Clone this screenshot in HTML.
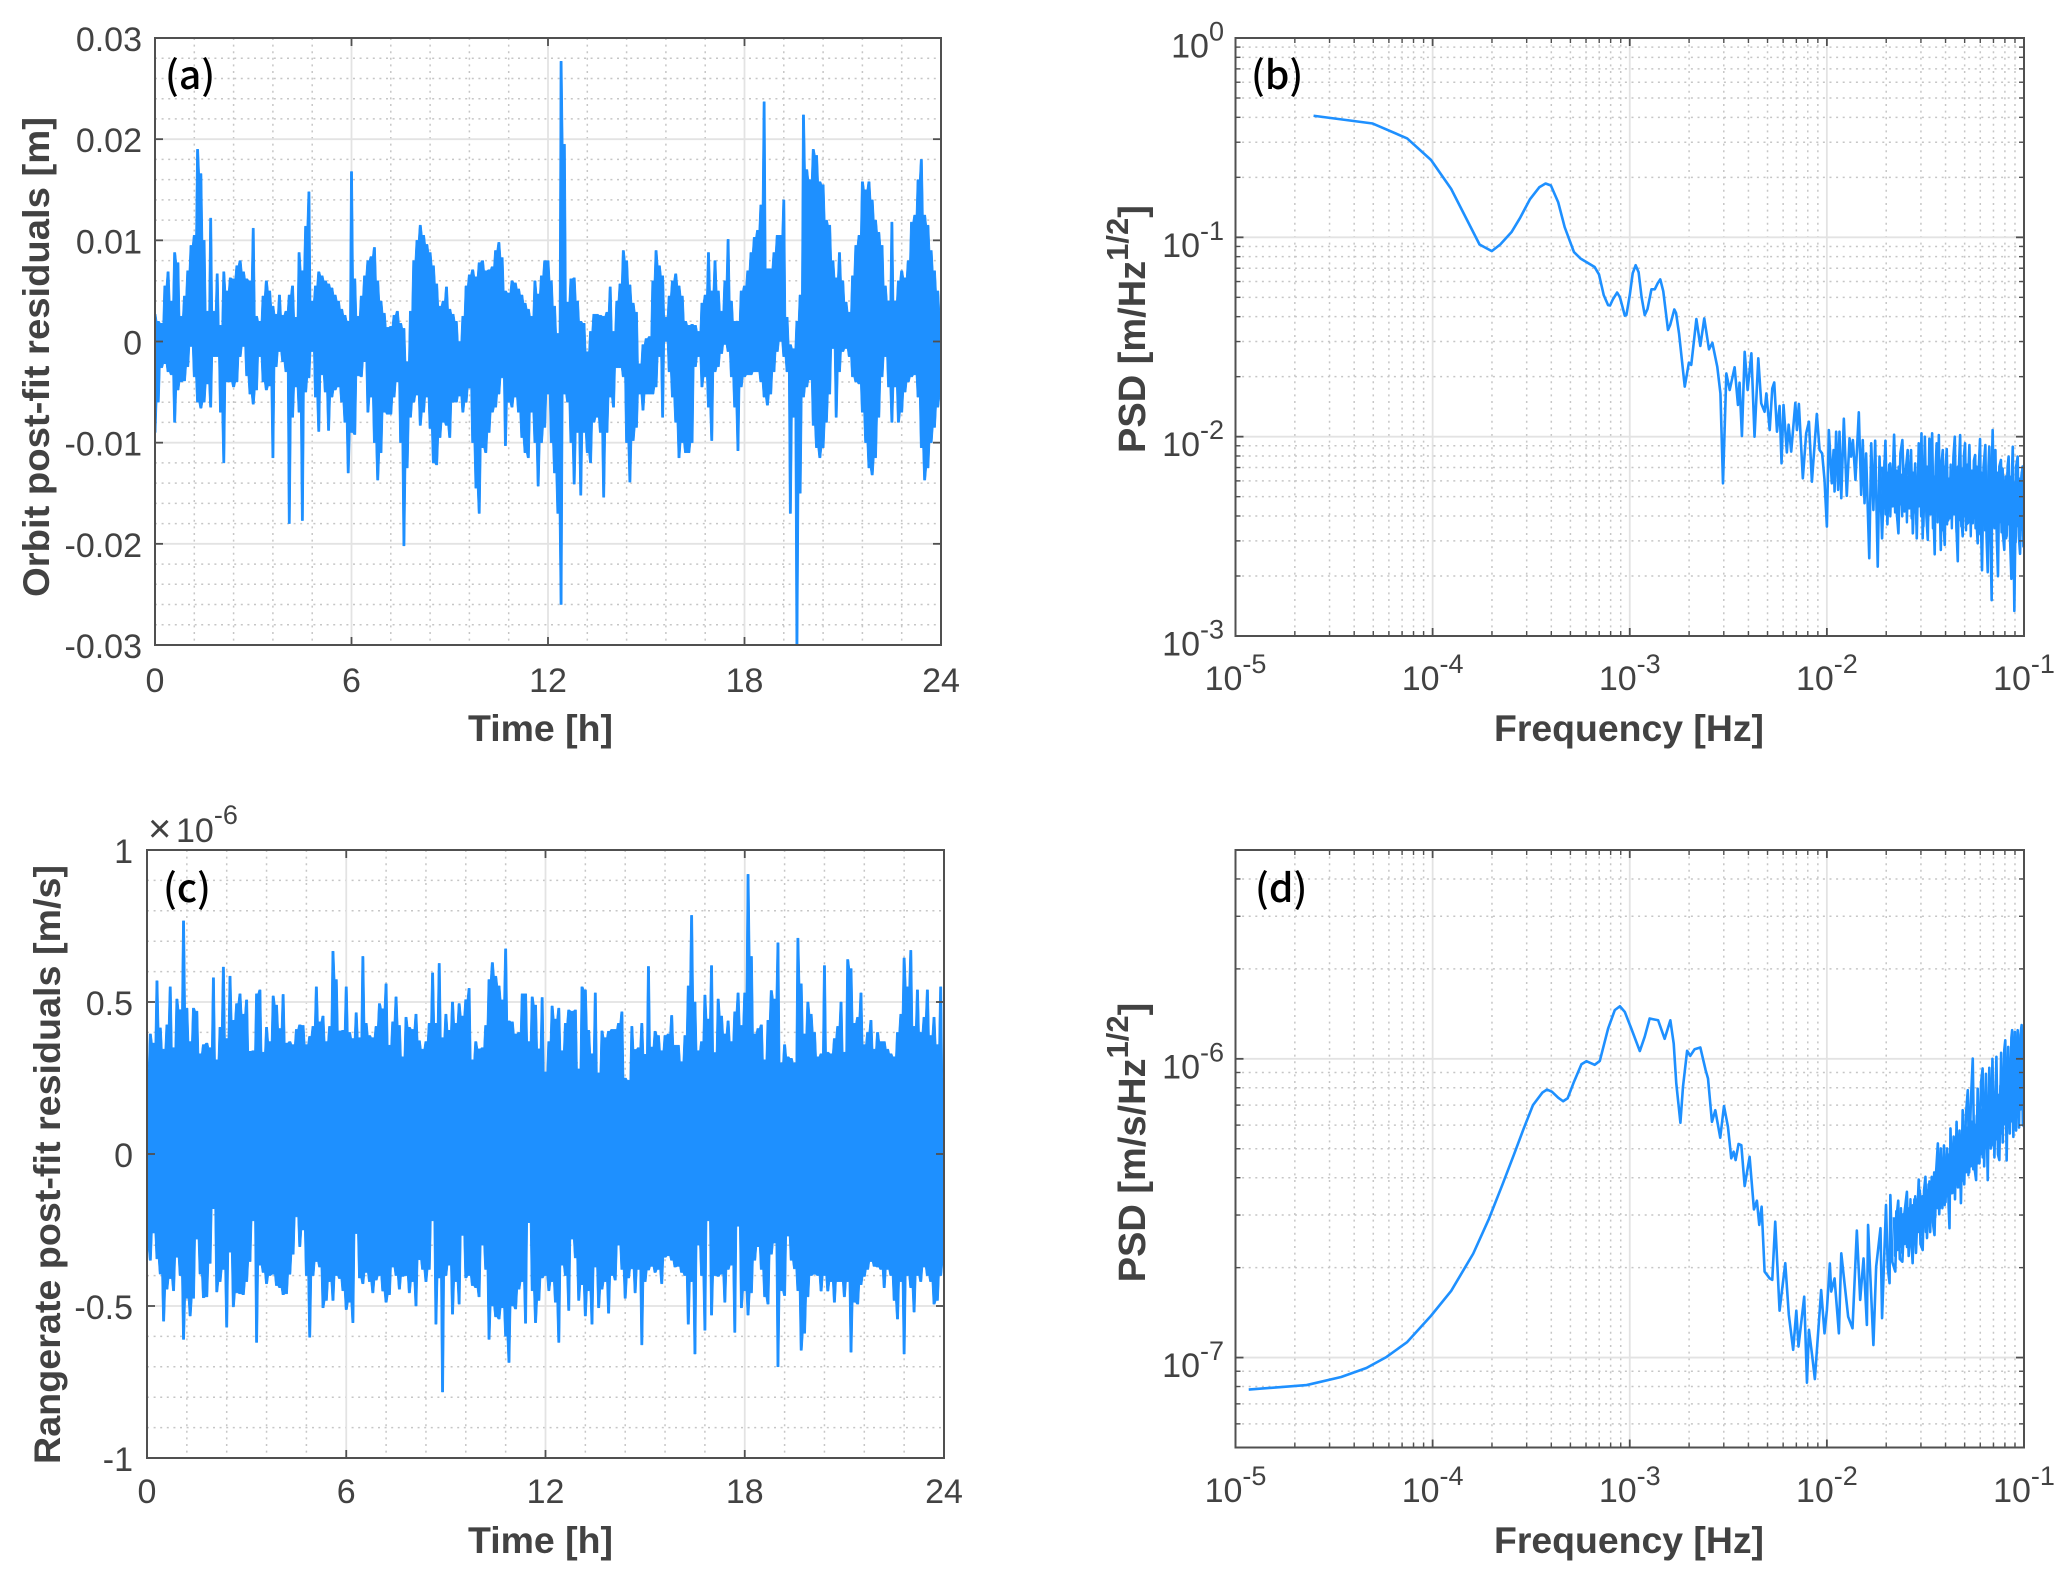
<!DOCTYPE html>
<html lang="en">
<head>
<meta charset="utf-8">
<title>Post-fit residuals and PSD</title>
<style>
html,body{margin:0;padding:0;background:#fff;}
svg{display:block;font-family:"Liberation Sans",sans-serif;}
.tick{font-size:34px;fill:#424242;}
.axis-title{font-size:37px;font-weight:bold;fill:#424242;}
.panel-tag{font-family:"Noto Sans CJK SC","Liberation Sans",sans-serif;font-size:39px;font-weight:500;fill:#000;}
</style>
</head>
<body>
<svg id="fig" width="2067" height="1582" viewBox="0 0 2067 1582" xmlns="http://www.w3.org/2000/svg">
  <rect x="0" y="0" width="2067" height="1582" fill="#fff"/>
  <g id="layer-plots"></g>

  <text class="panel-tag" x="165" y="89">(a)</text>
  <text class="panel-tag" x="1251" y="89">(b)</text>
  <text class="panel-tag" x="163" y="902">(c)</text>
  <text class="panel-tag" x="1255" y="902">(d)</text>

  <text class="axis-title" x="540.5" y="741" text-anchor="middle" textLength="145" lengthAdjust="spacingAndGlyphs">Time [h]</text>
  <text class="axis-title" x="1629" y="741" text-anchor="middle" textLength="270" lengthAdjust="spacingAndGlyphs">Frequency [Hz]</text>
  <text class="axis-title" x="540.5" y="1553" text-anchor="middle" textLength="145" lengthAdjust="spacingAndGlyphs">Time [h]</text>
  <text class="axis-title" x="1629" y="1553" text-anchor="middle" textLength="270" lengthAdjust="spacingAndGlyphs">Frequency [Hz]</text>

  <text class="axis-title" transform="translate(49 357) rotate(-90)" text-anchor="middle" textLength="480" lengthAdjust="spacingAndGlyphs">Orbit post-fit residuals [m]</text>
  <text class="axis-title" transform="translate(60 1164.5) rotate(-90)" text-anchor="middle" textLength="599" lengthAdjust="spacingAndGlyphs">Rangerate post-fit residuals [m/s]</text>
  <text class="axis-title" transform="translate(1145 329) rotate(-90)" text-anchor="middle" style="font-size:38px">PSD [m/Hz<tspan font-size="31" dy="-17" style="font-size:31px">1/2</tspan><tspan dy="17">]</tspan></text>
  <text class="axis-title" transform="translate(1145 1142.5) rotate(-90)" text-anchor="middle" style="font-size:38px">PSD [m/s/Hz<tspan font-size="31" dy="-17" style="font-size:31px">1/2</tspan><tspan dy="17">]</tspan></text>

  <g>
    <text class="tick" x="148" y="842" style="font-size:40px">×</text>
    <text class="tick" x="176" y="842">10<tspan dy="-18" style="font-size:27px">-6</tspan></text>
  </g>
</svg>

<script>
// ---------- chart data ----------
const orbitStepHours = 0.1;
const orbitUpperMm = [
2.7,2,1.8,5.5,6.9,4,8.8,7.8,2.5,4.5,
7,9.5,10.5,19,16.6,10,3,12.2,3,6.7,
1.6,6.9,5,6.3,6.2,7.5,8,6.9,6.2,6,
11.2,2.5,2,4.5,6,5,3.5,2.7,4.6,2.6,
3,4.6,5.5,2.4,8.8,7,11.4,14.8,4,5.5,
6.9,6.5,6,5.7,5.3,4.6,4,3.2,2.6,2,
16.8,6.2,2.5,4.5,6.5,8,8.4,9.3,6,4,
2.8,1.4,1.5,2.6,3,1.8,1.3,-2,3,8,
10,11.5,10.5,9.6,8.8,7.5,5.7,3.5,4,5.4,
3.2,2.7,2,0,2.5,5.5,6.6,7.1,6.4,7.8,
8,7,7.1,7.4,9,9.8,8.3,5,4.8,6,
5.8,5.2,4.6,3.8,3.2,2.5,6,4.7,6.5,8,
8,6,3.5,0.8,27.7,19.5,3.9,6.2,6.3,4,
2,1.8,-1,1,2.7,2.7,2.6,2.5,2.9,5.4,
1,4,5.7,9,8,5.6,3.8,2.9,-2.2,-0.3,
0.3,0.5,6,9,7.5,6.5,2.4,4.5,6,6.7,
5.5,4.5,2,1.6,1.7,1.6,1,3.8,4.6,8.8,
5,8,5,3,6,10.1,4,2,2,5,
5.5,7,8.8,10.3,11,13.5,23.7,7.2,7.2,8.8,
10.5,10.5,14,2.4,-0.3,-0.7,2,4.6,22.4,17,
16,19,18.4,15.8,15.5,12,11.5,8,6.3,8.8,
6,3.9,2.9,6.5,9.5,10.5,15.8,15,15.8,14,
12,10.8,9.5,5.5,4,11.8,4,6,7,6.3,
8,11.8,12.5,16,18,12.5,11.5,9,7,5,3];
const orbitLowerMm = [
-9,-6,-2.6,-2.2,-3,-3.3,-8,-4.8,-4,-3.9,
-2.5,-0.5,-3.5,-6,-6.6,-6,-4.2,-6.5,-1.5,-1.5,
-7,-12,-4,-4,-4.5,-4,-1.5,-0.5,-3.4,-5.2,
-6.2,-4.8,-1.5,-4,-4.8,-4.4,-11.5,-2.5,-1,-2,
-3,-18,-7.5,-4.5,-7,-17.7,-5,-3.6,-1,-5.5,
-8.9,-3.3,-5,-8.8,-5.5,-4.8,-4.5,-6,-8,-13,
-9,-9.2,-3.4,-3.5,-2,-7,-5.5,-10,-13.7,-11,
-7,-7.2,-7.2,-5.5,-4,-10,-20.2,-12.5,-7.5,-6,
-5.3,-8.3,-7,-5.5,-8.6,-12,-12.2,-9.5,-8,-8.3,
-9.5,-6,-6,-5.4,-7,-6,-4.6,-10,-14.5,-17,
-10.5,-11,-9,-7,-6.5,-5.2,-3.6,-10.3,-6,-6.5,
-5.5,-7,-9.5,-11,-11.5,-7,-10,-14.3,-10,-8.5,
-5.2,-10,-13,-17,-26,-5.2,-6,-10,-14.1,-9,
-15.2,-9,-11,-12,-8,-7.5,-9,-15.4,-9,-5.5,
-6.5,-2.6,-2.6,-3.5,-10,-13.9,-9.8,-8.5,-5.2,-6.8,
-5.2,-5.2,-5.2,-4.5,-1.5,-7.5,0,-3,-5.5,-8,
-11.5,-10,-11,-11,-10,-2.5,-1.5,-4.5,-3.5,-6.5,
-9.8,-3,-2.5,-1.2,-0.3,-1,-3.5,-6.5,-10.8,-4.5,
-3.5,-3.3,-3.3,-3,-3,-4,-5.5,-6.3,-5.2,-3,
-1,0,-1.5,-3,-17,-7.5,-30.5,-15,-5.5,-4.5,
-3.8,-8.3,-10.5,-11.5,-10.5,-8,-5.2,-0.7,-7.5,-3,
-1,-0.7,-1.5,-3.5,-4,-4.2,-7,-10,-12.5,-13.2,
-11.5,-7.5,-3.5,-1.5,-4.5,-8,-4.5,-8,-7,-5,
-4,-3.5,-3.3,-5.5,-10.5,-13.7,-12.5,-10,-8.5,-6.5,-5.5];

const rateStepHours = 0.1;
const rateUpperMicro = [
.28,.395,.365,.57,.415,.345,.425,.55,.35,.51,
.475,.767,.48,.37,.48,.47,.33,.36,.365,.35,
.58,.31,.417,.615,.38,.585,.44,.495,.527,.46,
.507,.338,.34,.527,.54,.335,.417,.37,.52,.49,
.413,.525,.365,.37,.36,.41,.425,.423,.36,.387,
.42,.55,.435,.454,.37,.42,.667,.574,.405,.407,
.55,.40,.38,.465,.383,.65,.43,.39,.383,.42,
.495,.478,.56,.358,.435,.517,.423,.32,.45,.417,
.41,.46,.373,.345,.37,.43,.596,.43,.627,.383,
.46,.407,.50,.43,.495,.454,.508,.545,.31,.37,
.346,.35,.423,.574,.63,.585,.553,.507,.675,.438,
.435,.395,.40,.527,.527,.37,.517,.49,.346,.515,
.27,.37,.487,.444,.48,.34,.43,.474,.47,.474,
.28,.55,.54,.407,.33,.53,.267,.405,.383,.404,
.41,.41,.43,.468,.25,.243,.42,.344,.35,.43,
.328,.617,.352,.404,.39,.34,.39,.395,.456,.358,
.358,.304,.39,.553,.785,.50,.34,.37,.523,.444,
.62,.334,.51,.454,.395,.438,.37,.468,.53,.423,
.53,.92,.65,.395,.413,.425,.31,.44,.538,.51,
.695,.30,.36,.32,.315,.30,.71,.56,.395,.50,
.46,.40,.32,.33,.62,.335,.33,.38,.42,.50,
.335,.64,.61,.43,.45,.53,.36,.40,.44,.345,
.40,.37,.37,.345,.33,.32,.40,.46,.645,.55,
.67,.42,.54,.40,.45,.54,.39,.45,.36,.55,.25];
const rateLowerMicro = [
-.31,-.35,-.26,-.345,-.395,-.55,-.445,-.41,-.45,-.34,
-.40,-.61,-.475,-.533,-.475,-.28,-.395,-.473,-.47,-.36,
-.18,-.454,-.42,-.38,-.57,-.323,-.503,-.457,-.46,-.463,
-.42,-.354,-.22,-.62,-.366,-.39,-.427,-.40,-.396,-.433,
-.44,-.463,-.46,-.396,-.33,-.207,-.305,-.25,-.40,-.603,
-.40,-.354,-.372,-.506,-.482,-.42,-.482,-.40,-.41,-.45,
-.512,-.488,-.555,-.262,-.408,-.427,-.39,-.42,-.457,-.415,
-.40,-.451,-.488,-.463,-.372,-.40,-.445,-.403,-.40,-.457,
-.42,-.50,-.348,-.38,-.42,-.38,-.22,-.56,-.408,-.783,
-.40,-.366,-.527,-.42,-.494,-.268,-.408,-.40,-.433,-.44,
-.47,-.30,-.38,-.61,-.50,-.536,-.543,-.506,-.60,-.686,
-.50,-.51,-.445,-.42,-.557,-.226,-.45,-.555,-.482,-.408,
-.40,-.45,-.42,-.488,-.62,-.366,-.40,-.515,-.28,-.342,
-.482,-.43,-.533,-.45,-.56,-.372,-.506,-.445,-.42,-.524,
-.40,-.415,-.30,-.38,-.475,-.408,-.378,-.457,-.38,-.628,
-.42,-.382,-.37,-.39,-.38,-.427,-.34,-.335,-.35,-.372,
-.37,-.39,-.40,-.56,-.42,-.658,-.30,-.40,-.58,-.22,
-.53,-.40,-.403,-.396,-.488,-.38,-.366,-.587,-.238,-.506,
-.45,-.53,-.457,-.35,-.305,-.38,-.47,-.494,-.33,-.293,
-.70,-.45,-.466,-.27,-.35,-.378,-.45,-.646,-.59,-.47,
-.40,-.396,-.40,-.451,-.40,-.451,-.42,-.488,-.42,-.42,
-.47,-.42,-.652,-.488,-.494,-.43,-.403,-.38,-.354,-.37,
-.372,-.38,-.44,-.38,-.40,-.482,-.543,-.42,-.658,-.40,
-.44,-.52,-.40,-.42,-.372,-.40,-.42,-.494,-.482,-.40,-.36];

const orbitPsdLogFreq = [
-4.604,-4.304,-4.129,-4.008,-3.906,-3.762,-3.70,-3.657,-3.60,-3.555,-3.507,-3.459,-3.427,-3.40,-3.363,-3.33,-3.283,-3.25,-3.178,-3.156,
-3.132,-3.11,-3.10,-3.085,-3.064,-3.05,-3.025,-3.017,-3.0,-2.985,-2.97,-2.955,-2.94,-2.924,-2.91,-2.89,-2.873,-2.858,-2.845,-2.83,
-2.806,-2.795,-2.774,-2.765,-2.75,-2.721,-2.70,-2.688,-2.662,-2.642,-2.622,-2.598,-2.581,-2.556,-2.54,-2.527,-2.51,-2.493,-2.468,-2.451,
-2.443,-2.431,-2.417,-2.402,-2.383,-2.367,-2.348,-2.333,-2.316,-2.307,-2.29,-2.277,-2.267,-2.253,-2.24,-2.23,-2.22,-2.203,-2.194,-2.181,
-2.16,-2.152,-2.142,-2.122,-2.105,-2.091,-2.076,-2.051,-2.037,-2.024,-2.012,-2,-1.99,-1.975,-1.966,-1.961,-1.953,-1.943,-1.936,-1.927,
-1.914,-1.899,-1.885,-1.877,-1.868,-1.855,-1.838,-1.826,-1.818,-1.809,-1.801,-1.785,-1.775,-1.764,-1.755,-1.742,-1.733,-1.72,-1.711,-1.703,
-1.693,-1.686,-1.679,-1.669,-1.659,-1.649,-1.637,-1.627,-1.617,-1.606,-1.598,-1.59,-1.581,-1.573,-1.564,-1.552,-1.544,-1.534,-1.527,-1.52,
-1.514,-1.503,-1.495,-1.488,-1.48,-1.473,-1.466,-1.46,-1.453,-1.448,-1.443,-1.437,-1.432,-1.427,-1.422,-1.417,-1.412,-1.407,-1.402,-1.397,
-1.392,-1.385,-1.378,-1.372,-1.365,-1.358,-1.351,-1.344,-1.336,-1.33,-1.324,-1.318,-1.311,-1.305,-1.299,-1.292,-1.285,-1.281,-1.277,-1.27,
-1.26,-1.254,-1.248,-1.242,-1.235,-1.229,-1.223,-1.218,-1.213,-1.205,-1.196,-1.19,-1.184,-1.18,-1.176,-1.17,-1.164,-1.162,-1.159,-1.152,
-1.145,-1.138,-1.132,-1.125,-1.117,-1.11,-1.1,-1.094,-1.088,-1.083,-1.078,-1.071,-1.064,-1.06,-1.057,-1.053,-1.049,-1.04,-1.032,-1.026,
-1.02,-1.013,-1.007,-1.003,-1];
const orbitPsdLogValue = [
-.39,-.429,-.504,-.612,-.757,-1.036,-1.069,-1.036,-.974,-.90,-.81,-.749,-.73,-.74,-.824,-.949,-1.074,-1.106,-1.149,-1.186,
-1.29,-1.34,-1.342,-1.31,-1.277,-1.30,-1.393,-1.39,-1.29,-1.18,-1.14,-1.175,-1.30,-1.39,-1.36,-1.261,-1.261,-1.23,-1.211,-1.27,
-1.465,-1.44,-1.362,-1.38,-1.482,-1.749,-1.629,-1.64,-1.41,-1.545,-1.407,-1.562,-1.529,-1.649,-1.783,-2.234,-1.683,-1.766,-1.652,-1.841,
-1.729,-1.997,-1.574,-1.766,-1.582,-2.0,-1.607,-1.833,-1.875,-1.783,-1.967,-1.758,-1.728,-1.975,-1.846,-2.134,-1.841,-2.079,-1.94,-2.075,
-1.83,-1.967,-1.836,-2.209,-1.983,-1.925,-2.226,-1.886,-2.067,-2.084,-2.217,-2.451,-1.967,-2.234,-2.067,-2.275,-1.975,-2.267,-1.975,-2.309,
-1.91,-2.297,-2.008,-2.1,-2.017,-2.217,-1.878,-2.292,-2.017,-2.334,-2.084,-2.61,-2.033,-2.368,-2.02,-2.652,-2.1,-2.51,-2.25,-2.02,
-2.44,-2.2,-2.134,-2.3,-1.99,-2.334,-2.485,-2.084,-2.017,-2.375,-2.15,-2.067,-2.35,-2.067,-2.485,-2.134,-2.51,-2.033,-2.3,-1.983,
-2.51,-2.0,-2.4,-2.518,-2.01,-2.3,-1.983,-2.35,-2.59,-2.15,-2.033,-2.4,-1.992,-2.35,-2.568,-2.12,-2.067,-2.45,-2.543,-2.15,
-2.062,-2.42,-2.3,-2.2,-2.4,-2.1,-2.0,-2.42,-2.625,-2.15,-1.992,-2.4,-2.5,-2.1,-2.033,-2.44,-2.434,-2.15,-2.042,-2.38,
-2.434,-2.12,-2.092,-2.4,-2.535,-2.15,-2.012,-2.45,-2.67,-2.15,-2.042,-2.5,-2.68,-2.15,-2.05,-2.5,-2.82,-2.1,-1.967,-2.45,
-2.067,-2.5,-2.7,-2.15,-2.117,-2.45,-2.568,-2.2,-2.5,-2.15,-2.1,-2.5,-2.713,-2.15,-2.05,-2.5,-2.874,-2.15,-2.1,-2.5,
-2.588,-2.2,-2.15,-2.55,-2.518];
const orbitPsdDenseStartLogFreq = -1.72;
const orbitPsdDenseStepLogFreq = 0.006;
const orbitPsdDenseLogValue = [
-2.15,-2.36,-2.12,-2.39,-2.18,-2.33,-2.14,-2.4,-2.2,-2.35,-2.13,-2.38,-2.17,-2.42,-2.15,-2.34,-2.19,-2.4,-2.14,-2.37,
-2.16,-2.43,-2.2,-2.36,-2.13,-2.41,-2.18,-2.38,-2.15,-2.44,-2.21,-2.35,-2.14,-2.4,-2.17,-2.45,-2.19,-2.37,-2.15,-2.42,
-2.18,-2.39,-2.14,-2.46,-2.2,-2.36,-2.16,-2.43,-2.13,-2.4,-2.19,-2.47,-2.15,-2.38,-2.18,-2.44,-2.21,-2.41,-2.14,-2.46,
-2.17,-2.39,-2.2,-2.48,-2.15,-2.42,-2.19,-2.45,-2.16,-2.4,-2.22,-2.47,-2.14,-2.43,-2.2,-2.5,-2.17,-2.41,-2.19,-2.46,
-2.15,-2.44,-2.21,-2.49,-2.18,-2.42,-2.16,-2.47,-2.22,-2.43,-2.17,-2.5,-2.19,-2.44,-2.15,-2.46,-2.21,-2.52,-2.18,-2.43,
-2.2,-2.48,-2.16,-2.45,-2.22,-2.51,-2.18,-2.44,-2.2,-2.49,-2.17,-2.46,-2.23,-2.53,-2.19,-2.45,-2.21,-2.5,-2.18,-2.47,
-2.2,-2.52,-2.17,-2.44];

const ratePsdLogFreq = [
-4.933,-4.639,-4.464,-4.336,-4.234,-4.129,-4.008,-3.906,-3.794,-3.714,-3.644,-3.586,-3.539,-3.491,-3.443,-3.42,-3.395,-3.363,-3.338,-3.315,
-3.283,-3.245,-3.22,-3.178,-3.152,-3.11,-3.076,-3.05,-3.025,-2.992,-2.949,-2.924,-2.899,-2.856,-2.823,-2.794,-2.777,-2.764,-2.743,-2.73,
-2.709,-2.693,-2.671,-2.642,-2.615,-2.603,-2.583,-2.566,-2.541,-2.522,-2.502,-2.485,-2.473,-2.463,-2.448,-2.434,-2.417,-2.392,-2.37,-2.355,
-2.343,-2.331,-2.316,-2.29,-2.277,-2.262,-2.24,-2.211,-2.193,-2.171,-2.155,-2.144,-2.115,-2.101,-2.091,-2.074,-2.061,-2.029,-2.012,-2,
-1.985,-1.978,-1.961,-1.939,-1.927,-1.892,-1.87,-1.848,-1.831,-1.814,-1.797,-1.791,-1.764,-1.75,-1.728,-1.72,
-1.7,-1.691,-1.682,-1.678,-1.668,-1.653,-1.645,-1.638,-1.63,-1.617,-1.607,-1.594,-1.585,-1.575,-1.565,-1.556,-1.548,-1.54,-1.534,-1.525,
-1.514,-1.507,-1.5,-1.492,-1.484,-1.476,-1.468,-1.46,-1.454,-1.446,-1.437,-1.43,-1.422,-1.414,-1.406,-1.398,-1.39,-1.382,-1.378,-1.373,
-1.365,-1.357,-1.35,-1.342,-1.335,-1.327,-1.32,-1.311,-1.303,-1.295,-1.285,-1.278,-1.27,-1.26,-1.252,-1.243,-1.235,-1.226,-1.218,-1.21,
-1.202,-1.193,-1.184,-1.176,-1.168,-1.16,-1.15,-1.14,-1.132,-1.125,-1.116,-1.108,-1.1,-1.095,-1.088,-1.08,-1.072,-1.064,-1.06,-1.054,
-1.046,-1.04,-1.032,-1.025,-1.018,-1.012,-1.006,-1];
const ratePsdLogValue = [
-7.107,-7.092,-7.065,-7.035,-6.998,-6.948,-6.86,-6.777,-6.652,-6.535,-6.418,-6.318,-6.235,-6.155,-6.113,-6.103,-6.11,-6.13,-6.142,-6.132,
-6.077,-6.018,-6.008,-6.02,-6.007,-5.899,-5.837,-5.824,-5.843,-5.899,-5.974,-5.926,-5.865,-5.871,-5.933,-5.871,-5.949,-6.082,-6.214,-6.094,
-5.973,-5.99,-5.968,-5.962,-6.038,-6.066,-6.211,-6.172,-6.264,-6.158,-6.227,-6.333,-6.311,-6.339,-6.285,-6.289,-6.426,-6.328,-6.504,-6.475,
-6.556,-6.495,-6.712,-6.735,-6.74,-6.545,-6.843,-6.684,-6.857,-6.974,-6.843,-6.963,-6.796,-7.084,-6.907,-6.997,-7.072,-6.774,-6.919,-6.841,
-6.685,-6.779,-6.735,-6.919,-6.651,-6.863,-6.902,-6.575,-6.807,-6.668,-6.891,-6.556,-6.958,-6.696,-6.567,-6.868,
-6.489,-6.70,-6.751,-6.456,-6.68,-6.712,-6.52,-6.475,-6.67,-6.679,-6.52,-6.445,-6.66,-6.55,-6.684,-6.47,-6.65,-6.5,-6.404,-6.62,
-6.64,-6.44,-6.395,-6.6,-6.42,-6.58,-6.395,-6.56,-6.59,-6.38,-6.283,-6.52,-6.3,-6.5,-6.29,-6.48,-6.3,-6.5,-6.567,-6.233,
-6.45,-6.26,-6.47,-6.211,-6.43,-6.24,-6.483,-6.172,-6.42,-6.19,-6.105,-6.38,-6.15,-5.999,-6.36,-6.406,-6.1,-6.35,-6.08,-6.032,
-6.36,-6.05,-6.406,-6.03,-6.3,-6.0,-6.33,-5.993,-6.32,-6.339,-5.98,-6.28,-5.97,-5.938,-6.34,-5.96,-6.25,-5.93,-5.904,-6.261,
-5.91,-6.24,-5.904,-6.23,-5.92,-5.887,-6.22,-6.227];
const ratePsdDenseStartLogFreq = -1.66;
const ratePsdDenseStepLogFreq = 0.006;
const ratePsdDenseLogValue = [
-6.53,-6.66,-6.51,-6.64,-6.54,-6.63,-6.5,-6.65,-6.52,-6.62,
-6.49,-6.63,-6.5,-6.6,-6.47,-6.62,-6.49,-6.59,-6.46,-6.6,
-6.47,-6.58,-6.44,-6.59,-6.46,-6.56,-6.43,-6.58,-6.44,-6.55,
-6.41,-6.55,-6.42,-6.52,-6.38,-6.53,-6.4,-6.5,-6.36,-6.5,
-6.37,-6.48,-6.34,-6.49,-6.35,-6.46,-6.32,-6.47,-6.33,-6.44,
-6.3,-6.45,-6.31,-6.42,-6.28,-6.43,-6.29,-6.4,-6.26,-6.41,
-6.26,-6.38,-6.23,-6.39,-6.24,-6.36,-6.21,-6.37,-6.22,-6.34,
-6.19,-6.35,-6.2,-6.32,-6.17,-6.33,-6.18,-6.3,-6.15,-6.31,
-6.16,-6.28,-6.13,-6.29,-6.14,-6.26,-6.11,-6.27,-6.12,-6.24,
-6.09,-6.25,-6.1,-6.22,-6.07,-6.23,-6.08,-6.2,-6.05,-6.21,
-6.06,-6.18,-6.03,-6.19,-6.04,-6.16,-6.01,-6.17,-6.02,-6.15,
-6.0,-6.18];

const timeTickValues = [0,6,12,18,24];
const timeTickLabels = ['0','6','12','18','24'];
const orbitTickValues = [30,20,10,0,-10,-20,-30];
const orbitTickLabels = ['0.03','0.02','0.01','0','-0.01','-0.02','-0.03'];
const rateTickValues = [1,0.5,0,-0.5,-1];
const rateTickLabels = ['1','0.5','0','-0.5','-1'];
const freqDecades = [-5,-4,-3,-2,-1];
const orbitPsdDecades = [0,-1,-2,-3];
const ratePsdDecades = [-6,-7];
const minorLogSteps = [2,3,4,5,6,7,8,9];

// ---------- layout ----------
const NS = 'http://www.w3.org/2000/svg';
const plotLayer = document.getElementById('layer-plots');
const BLUE = '#1E90FF';

function scale(d0, d1, r0, r1) {
  return function (v) { return r0 + (v - d0) * (r1 - r0) / (d1 - d0); };
}
function make(tag, parent, attrs) {
  const el = document.createElementNS(NS, tag);
  for (const k in attrs) el.setAttribute(k, attrs[k]);
  parent.appendChild(el);
  return el;
}
function hLine(parent, x0, x1, y, stroke, width, dash) {
  const el = make('line', parent, {x1:x0, x2:x1, y1:y, y2:y, stroke:stroke, 'stroke-width':width});
  if (dash) el.setAttribute('stroke-dasharray', dash);
  return el;
}
function vLine(parent, x, y0, y1, stroke, width, dash) {
  const el = make('line', parent, {x1:x, x2:x, y1:y0, y2:y1, stroke:stroke, 'stroke-width':width});
  if (dash) el.setAttribute('stroke-dasharray', dash);
  return el;
}
const GRID = '#e3e3e3', DOT = '#c6c6c6', AXIS = '#505050', DASH = '2 4.6';

function minorLog(decades, lo, hi) {
  const out = [];
  const first = Math.floor(lo) - 1, last = Math.ceil(hi) + 1;
  for (let d = first; d <= last; d++) {
    minorLogSteps.forEach(function (m) {
      const v = d + Math.log10(m);
      if (v > lo && v < hi) out.push(v);
    });
  }
  return out;
}
function minorLinear(lo, hi, step) {
  const out = [];
  const n = Math.round((hi - lo) / step);
  for (let i = 1; i < n; i++) out.push(lo + i * step);
  return out;
}

function drawPanel(id, box, xDom, yDom, xMajor, yMajor, xMinor, yMinor, logTicks) {
  const g = make('g', plotLayer, {});
  
  
  const x = scale(xDom[0], xDom[1], box.l, box.r);
  const y = scale(yDom[0], yDom[1], box.b, box.t);

  const clip = make('clipPath', g, {id: 'clip-' + id});
  make('rect', clip, {x: box.l, y: box.t, width: box.r - box.l, height: box.b - box.t});

  const grid = make('g', g, {});
  
  
  xMinor.forEach(function (v) { vLine(grid, x(v), box.t, box.b, DOT, 1.5, DASH); });
  yMinor.forEach(function (v) { hLine(grid, box.l, box.r, y(v), DOT, 1.5, DASH); });
  xMajor.forEach(function (v) { vLine(grid, x(v), box.t, box.b, GRID, 1.8); });
  yMajor.forEach(function (v) { hLine(grid, box.l, box.r, y(v), GRID, 1.8); });

  const series = make('g', g, {'clip-path': 'url(#clip-' + id + ')'});
  
  

  const frame = make('g', g, {});
  
  
  xMajor.forEach(function (v) {
    vLine(frame, x(v), box.b, box.b - 8, AXIS, 1.8);
    vLine(frame, x(v), box.t, box.t + 8, AXIS, 1.8);
  });
  yMajor.forEach(function (v) {
    hLine(frame, box.l, box.l + 8, y(v), AXIS, 1.8);
    hLine(frame, box.r, box.r - 8, y(v), AXIS, 1.8);
  });
  if (logTicks) {
    xMinor.forEach(function (v) {
      vLine(frame, x(v), box.b, box.b - 5, AXIS, 1.4);
      vLine(frame, x(v), box.t, box.t + 5, AXIS, 1.4);
    });
    yMinor.forEach(function (v) {
      hLine(frame, box.l, box.l + 5, y(v), AXIS, 1.4);
      hLine(frame, box.r, box.r - 5, y(v), AXIS, 1.4);
    });
  }
  make('rect', frame, {x: box.l, y: box.t, width: box.r - box.l, height: box.b - box.t, fill: 'none', stroke: AXIS, 'stroke-width': 2});

  return {g: g, x: x, y: y, series: series};
}
function plainLabel(parent, text, px, py, anchor) {
  const el = make('text', parent, {x: px, y: py, 'text-anchor': anchor, 'class': 'tick'});
  el.textContent = text;
  return el;
}
function powerLabel(parent, exponent, px, py, anchor) {
  const el = make('text', parent, {x: px, y: py, 'text-anchor': anchor, 'class': 'tick'});
  el.appendChild(document.createTextNode('10'));
  const sup = make('tspan', el, {dy: -17, style: 'font-size:27px'});
  sup.textContent = String(exponent);
  return el;
}
// Filled envelope between the upper and lower sample of every time bin.
function envelopePoints(stepHours, upper, lower, x, y) {
  const half = stepHours * 0.35;
  const top = [], bottom = [];
  upper.forEach(function (u, i) {
    const t = i * stepHours;
    top.push(x(t - half).toFixed(2) + ',' + y(u).toFixed(2));
    top.push(x(t + half).toFixed(2) + ',' + y(u).toFixed(2));
    bottom.push(x(t - half).toFixed(2) + ',' + y(lower[i]).toFixed(2));
    bottom.push(x(t + half).toFixed(2) + ',' + y(lower[i]).toFixed(2));
  });
  return top.concat(bottom.reverse()).join(' ');
}
function pairs(xs, ys, x, y) {
  return xs.map(function (v, i) { return x(v).toFixed(2) + ',' + y(ys[i]).toFixed(2); }).join(' ');
}
function densePairs(start, step, ys, x, y) {
  return ys.map(function (v, i) { return x(start + i * step).toFixed(2) + ',' + y(v).toFixed(2); }).join(' ');
}
function drawLine(series, points, width) {
  return make('polyline', series, {points: points, fill: 'none', stroke: BLUE, 'stroke-width': width, 'stroke-linejoin': 'round'});
}
function drawEnvelope(series, points) {
  return make('polygon', series, {points: points, fill: BLUE, stroke: BLUE, 'stroke-width': 0.5, 'stroke-linejoin': 'round'});
}

// ---------- panel (a) ----------
const pa = drawPanel('a', {l:155, r:941, t:38, b:645}, [0,24], [-30,30], timeTickValues, orbitTickValues,
  minorLinear(0,24,1.2).filter(function (v) { return Math.abs(v % 6) > 0.01 && Math.abs(v % 6 - 6) > 0.01; }),
  minorLinear(-30,30,2).filter(function (v) { return v % 10 !== 0; }), false);
const lineA = drawEnvelope(pa.series, envelopePoints(orbitStepHours, orbitUpperMm, orbitLowerMm, pa.x, pa.y));


const labelsA = make('g', pa.g, {});


timeTickValues.forEach(function (v, i) { plainLabel(labelsA, timeTickLabels[i], pa.x(v), 692, 'middle'); });
orbitTickValues.forEach(function (v, i) { plainLabel(labelsA, orbitTickLabels[i], 142, pa.y(v) + 13, 'end'); });

// ---------- panel (b) ----------
const pb = drawPanel('b', {l:1235.5, r:2024, t:38, b:636}, [-5,-1], [-3,0], freqDecades, orbitPsdDecades,
  minorLog(freqDecades,-5,-1), minorLog(orbitPsdDecades,-3,0), true);
const lineB = drawLine(pb.series, pairs(orbitPsdLogFreq, orbitPsdLogValue, pb.x, pb.y), 2.6);


const denseB = drawLine(pb.series, densePairs(orbitPsdDenseStartLogFreq, orbitPsdDenseStepLogFreq, orbitPsdDenseLogValue, pb.x, pb.y), 2.4);


const labelsB = make('g', pb.g, {});


freqDecades.forEach(function (v) { powerLabel(labelsB, v, pb.x(v), 690, 'middle'); });
orbitPsdDecades.forEach(function (v) { powerLabel(labelsB, v, 1224, pb.y(v) + 19.5, 'end'); });

// ---------- panel (c) ----------
const pc = drawPanel('c', {l:147, r:944, t:850, b:1458}, [0,24], [-1,1], timeTickValues, rateTickValues,
  minorLinear(0,24,1.2).filter(function (v) { return Math.abs(v % 6) > 0.01 && Math.abs(v % 6 - 6) > 0.01; }),
  minorLinear(-1,1,0.1).filter(function (v) { return Math.abs(v * 2 - Math.round(v * 2)) > 0.01; }), false);
const lineC = drawEnvelope(pc.series, envelopePoints(rateStepHours, rateUpperMicro, rateLowerMicro, pc.x, pc.y));


const labelsC = make('g', pc.g, {});


timeTickValues.forEach(function (v, i) { plainLabel(labelsC, timeTickLabels[i], pc.x(v), 1503, 'middle'); });
rateTickValues.forEach(function (v, i) { plainLabel(labelsC, rateTickLabels[i], 133, pc.y(v) + 13, 'end'); });

// ---------- panel (d) ----------
const pd = drawPanel('d', {l:1235.5, r:2024, t:850, b:1447.5}, [-5,-1], [-7.301,-5.301], freqDecades, ratePsdDecades,
  minorLog(freqDecades,-5,-1), minorLog(ratePsdDecades,-7.301,-5.301), true);
const lineD = drawLine(pd.series, pairs(ratePsdLogFreq, ratePsdLogValue, pd.x, pd.y), 2.6);


const denseD = drawLine(pd.series, densePairs(ratePsdDenseStartLogFreq, ratePsdDenseStepLogFreq, ratePsdDenseLogValue, pd.x, pd.y), 2.4);


const labelsD = make('g', pd.g, {});


freqDecades.forEach(function (v) { powerLabel(labelsD, v, pd.x(v), 1502, 'middle'); });
ratePsdDecades.forEach(function (v) { powerLabel(labelsD, v, 1224, pd.y(v) + 19.5, 'end'); });
</script>
</body>
</html>
